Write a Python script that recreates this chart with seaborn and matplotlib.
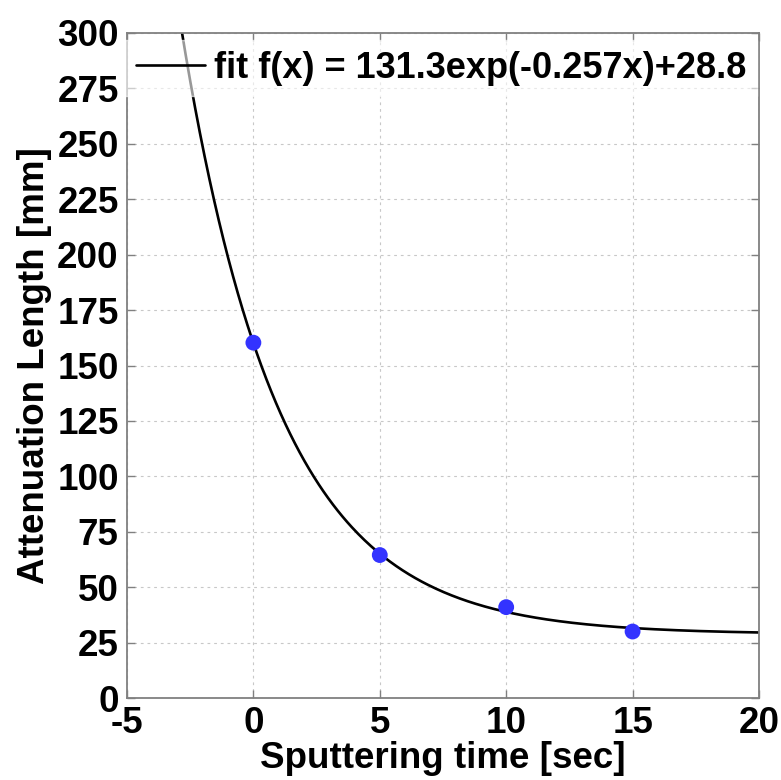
import numpy as np
import pandas as pd
import matplotlib
matplotlib.use("Agg")
import matplotlib.pyplot as plt
import seaborn as sns

# data
sputter_time = [0, 5, 10, 15]
atten_length = [160.3, 64.5, 41.0, 30.0]

# fit parameters shown in the legend: f(x) = A*exp(B*x)+C
fit_A = 131.3
fit_B = -0.257
fit_C = 28.8
fit_label = "fit f(x) = 131.3exp(-0.257x)+28.8"

x_ticks = [-5, 0, 5, 10, 15, 20]
y_ticks = [0, 25, 50, 75, 100, 125, 150, 175, 200, 225, 250, 275, 300]

sns.set_style("white")
plt.rcParams["font.family"] = ["Liberation Sans", "DejaVu Sans"]
plt.rcParams["font.weight"] = "bold"
plt.rcParams["text.color"] = "black"
plt.rcParams["axes.labelcolor"] = "black"
plt.rcParams["xtick.color"] = "black"
plt.rcParams["ytick.color"] = "black"

FS = 26.5
LFS = 26

fig = plt.figure(figsize=(7.81, 7.80), dpi=100)
ax = fig.add_axes([0.1626, 0.1051, 0.8092, 0.8526])

xf = np.linspace(-5, 20, 400)
fit_df = pd.DataFrame({"x": xf, "y": fit_A * np.exp(fit_B * xf) + fit_C})
pts_df = pd.DataFrame({"x": sputter_time, "y": atten_length})

sns.lineplot(data=fit_df, x="x", y="y", ax=ax, color="black", linewidth=1.9,
             label=fit_label, zorder=2, legend=False)
sns.scatterplot(data=pts_df, x="x", y="y", ax=ax, color="#3333ff", s=130,
                edgecolor="none", zorder=3, legend=False)

ax.set_xlim(-5, 20)
ax.set_ylim(0, 300)
ax.set_xticks(x_ticks)
ax.set_yticks(y_ticks)
ax.set_xticklabels([str(v) for v in x_ticks], fontsize=FS, fontweight="bold")
ax.set_yticklabels([str(v) for v in y_ticks], fontsize=FS, fontweight="bold")
ax.set_xlabel("Sputtering time [sec]", fontsize=FS, fontweight="bold", labelpad=0)
ax.set_ylabel("Attenuation Length [mm]", fontsize=FS, fontweight="bold", labelpad=4)

ax.grid(True, linestyle=(0, (2.5, 3.5)), color="#c8c8c8", linewidth=0.8)
for s in ax.spines.values():
    s.set_color("#808080")
    s.set_linewidth(1.3)
    s.set_visible(True)
ax.tick_params(direction="in", length=6, width=1.0, color="#808080",
               labelcolor="black",
               top=True, right=True, bottom=True, left=True, pad=6)

handles = [ax.get_lines()[0]]
leg = ax.legend(handles, [fit_label], loc="upper right",
                bbox_to_anchor=(1.0, 0.9925),
                prop={"size": LFS, "weight": "bold"},
                frameon=True, fancybox=False,
                framealpha=0.6, edgecolor="white", handlelength=1.9,
                borderaxespad=0.05, handletextpad=0.25, borderpad=0.3)
for t in leg.get_texts():
    t.set_color("black")
for h in leg.get_lines():
    h.set_linewidth(1.9)
leg.set_zorder(5)

fig.savefig("out.png", dpi=100)
